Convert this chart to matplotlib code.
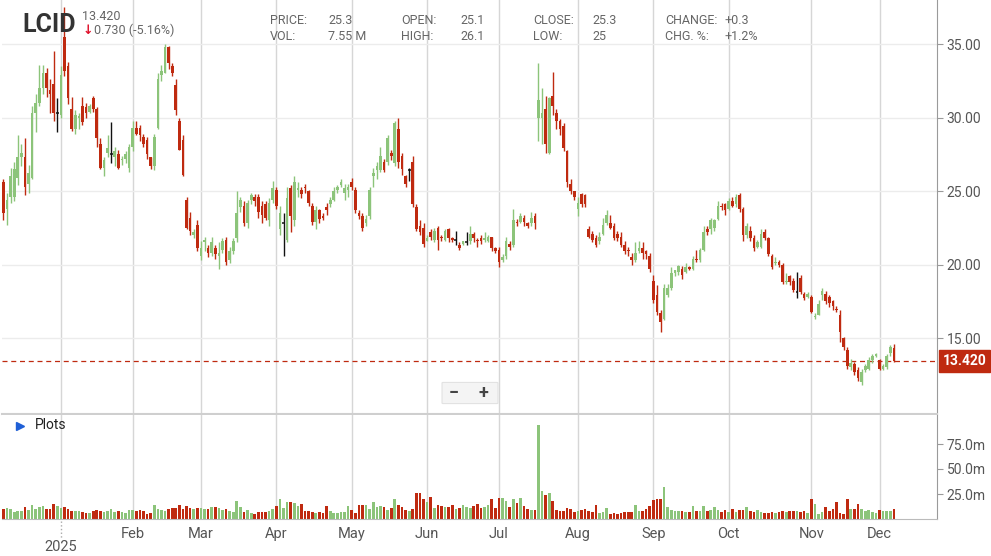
import matplotlib
matplotlib.use("Agg")
import matplotlib.pyplot as plt
import numpy as np
import pandas as pd
from matplotlib.patches import FancyBboxPatch

plt.rcParams['font.family'] = ['Roboto', 'DejaVu Sans']

# ---------------- data ----------------
opens = [23.8,25.6,23.8,24.6,24.6,25.9,27.3,27.3,25.5,25.9,30.3,31.0,32.0,33.0,31.9,32.3,
 30.3,30.2,35.5,33.5,30.6,29.2,30.0,30.8,30.7,30.4,31.3,30.6,28.2,26.6,27.6,27.5,27.3,27.5,27.1,27.2,26.6,28.0,
 29.3,29.3,28.7,28.5,27.3,26.7,29.3,32.9,33.0,34.8,33.5,32.2,29.8,28.5,24.4,23.2,22.0,22.7,
 20.6,21.5,21.1,20.8,21.1,20.6,21.0,21.7,20.3,20.9,21.8,23.9,24.0,22.8,24.4,24.6,24.6,24.0,24.1,23.0,
 24.4,25.1,22.4,22.8,21.7,25.2,23.0,25.1,25.1,25.3,25.0,24.0,22.9,23.7,23.3,23.9,24.1,24.4,25.1,25.4,24.9,
 25.1,25.6,25.1,23.5,23.3,22.8,23.3,26.0,26.4,26.4,27.0,27.0,27.6,26.9,29.2,27.4,26.0,26.4,27.0,
 23.9,22.6,22.5,21.6,22.2,21.7,22.5,21.9,21.7,22.4,21.8,21.7,21.3,21.4,21.5,21.6,22.1,21.7,21.8,21.7,21.6,21.9,21.1,21.0,
 20.3,20.6,21.4,21.3,22.9,22.9,23.2,22.8,22.8,23.3,30.0,30.0,30.6,27.6,31.5,30.3,29.8,29.4,27.7,25.5,25.0,
 23.8,24.8,24.7,22.4,22.1,21.8,21.6,22.1,22.8,22.8,22.6,22.1,21.9,21.3,21.0,20.5,20.3,20.9,21.1,20.9,20.6,
 18.9,17.9,16.7,16.3,17.9,18.4,19.4,19.5,19.7,19.5,19.8,19.7,20.4,20.3,21.0,22.4,22.4,22.5,23.1,24.0,24.1,23.8,24.3,24.1,24.7,
 23.8,22.0,22.3,21.8,21.2,21.2,22.2,21.8,20.6,20.1,20.2,20.0,18.8,19.2,18.9,18.1,19.1,18.0,17.8,17.8,16.4,16.6,
 17.9,18.0,17.8,17.5,17.0,16.6,15.0,14.2,13.0,13.2,12.8,12.0,12.8,12.9,13.5,13.8,
 13.5,12.9,13.0,14.0,14.3]
closes = [25.5,23.5,24.4,26.0,26.5,27.3,27.6,25.3,26.2,30.3,31.0,32.0,33.0,32.0,31.6,30.3,
 30.3,32.9,33.2,31.3,29.2,30.2,30.1,29.7,30.3,30.8,30.6,28.6,26.6,27.1,27.9,27.5,27.7,26.6,27.2,27.5,28.0,29.3,
 28.9,28.8,28.2,27.5,26.7,28.7,32.6,33.2,34.8,33.7,33.0,30.5,27.8,26.1,22.5,22.3,22.2,21.1,
 21.1,21.7,20.8,21.5,20.7,20.8,21.6,20.2,20.9,21.6,23.5,24.4,22.8,24.2,24.7,24.3,23.6,23.4,23.2,24.2,
 25.2,24.0,23.5,22.8,24.5,23.3,25.6,25.2,24.8,25.2,24.2,22.9,23.7,23.1,23.2,23.7,24.4,25.0,25.3,25.6,25.2,
 25.3,25.3,23.7,23.3,22.5,23.1,25.1,26.2,26.7,27.4,26.4,28.6,27.4,29.6,27.0,26.5,25.5,26.4,24.1,
 22.4,22.2,21.4,21.8,21.9,22.3,21.7,21.8,22.3,21.8,21.7,21.7,21.1,21.6,21.5,22.1,21.8,21.6,21.6,21.8,21.9,21.1,20.9,20.2,
 20.5,21.6,21.2,23.0,22.8,23.3,22.9,22.6,23.2,22.8,31.2,30.3,28.2,31.3,30.8,29.8,29.2,27.9,25.6,25.0,24.6,
 24.2,24.1,24.1,21.9,21.7,21.3,21.9,22.7,23.4,22.5,21.8,21.8,21.3,20.9,20.9,20.3,20.8,21.1,20.8,20.7,19.7,
 17.6,16.8,16.1,18.4,18.4,19.4,19.6,19.9,19.3,19.8,19.7,20.4,20.3,21.0,22.2,22.2,23.0,23.0,24.0,23.9,23.7,24.3,24.0,24.6,23.8,
 22.0,22.6,21.8,21.1,21.5,22.1,21.8,20.7,19.8,20.2,20.0,18.8,18.9,18.8,18.3,18.1,18.1,17.7,18.0,16.8,16.5,17.3,
 18.2,17.5,17.4,17.2,16.9,15.4,14.4,13.1,13.3,12.7,12.3,12.7,13.1,13.5,13.8,13.9,
 12.9,13.1,13.8,14.4,13.42]
highs = [26.6,25.8,24.9,26.6,27.0,28.8,28.2,28.6,26.8,30.8,31.6,33.6,33.6,33.4,32.6,34.5,
 31.3,33.5,37.5,33.8,31.4,30.5,30.3,31.4,31.0,30.9,31.5,30.7,28.6,27.3,28.8,29.7,28.0,27.8,27.4,27.7,28.2,29.8,
 29.8,29.5,28.9,28.7,27.3,28.9,33.0,33.6,35.0,34.9,33.7,32.6,30.0,28.8,24.6,23.6,22.4,23.0,
 21.6,21.9,21.3,21.9,21.3,21.5,21.8,21.9,21.2,21.8,25.0,24.6,24.3,24.4,24.9,24.8,24.8,24.3,24.3,24.5,
 25.7,25.3,24.0,23.5,25.3,25.4,26.0,25.6,25.3,25.5,25.1,24.2,24.0,23.8,23.5,24.2,24.6,25.3,25.4,25.8,25.5,
 25.5,25.9,25.3,23.7,23.5,23.4,25.3,26.6,27.0,28.0,27.2,28.8,27.8,29.8,30.0,27.6,26.1,26.6,27.4,
 24.1,23.0,22.8,22.0,22.4,22.5,22.6,22.0,22.4,22.5,21.9,22.3,21.5,21.6,22.2,22.6,22.2,21.8,22.0,22.2,22.0,21.9,21.2,21.2,
 20.7,21.9,21.6,23.8,23.1,23.5,23.4,22.9,23.6,23.5,33.7,32.0,31.5,31.4,33.1,30.6,29.9,29.6,27.8,25.8,25.0,
 24.6,24.9,24.8,22.6,22.3,22.0,22.2,23.2,23.7,23.4,22.8,22.3,22.2,21.6,21.2,20.8,21.5,21.6,21.5,21.0,20.8,
 19.3,18.6,16.9,18.7,18.7,19.8,19.6,20.0,19.9,20.1,19.9,20.6,21.0,21.1,22.6,22.6,23.2,23.1,24.3,24.2,24.2,24.5,24.6,24.8,24.9,
 23.9,22.8,22.6,22.0,21.7,22.4,22.4,21.9,20.7,20.5,20.3,20.1,19.4,19.3,19.1,19.5,19.3,18.1,18.1,17.9,16.7,17.6,
 18.4,18.2,17.9,17.6,17.2,16.9,15.1,14.4,13.6,13.4,13.0,12.9,13.2,13.7,13.9,14.0,
 13.6,13.2,13.9,14.5,14.6]
lows = [23.0,23.0,22.7,24.2,24.3,25.4,26.7,24.7,24.9,25.8,29.0,30.8,31.6,31.4,30.3,29.8,
 29.0,30.0,32.8,30.9,29.1,28.9,29.2,29.5,30.0,30.3,30.4,28.0,26.5,26.0,27.3,26.9,26.7,26.5,26.8,26.9,26.3,27.7,
 28.8,28.4,28.0,27.2,26.5,26.4,29.2,32.5,33.0,33.3,32.8,30.2,27.8,26.0,22.4,22.0,21.8,20.9,
 20.3,20.9,20.5,20.6,20.4,19.7,20.8,20.0,20.1,20.7,21.5,23.6,22.6,22.5,24.1,24.0,23.2,22.8,23.0,22.6,
 24.2,23.8,22.0,20.6,21.5,22.2,22.6,24.6,24.5,24.9,24.0,22.7,22.4,22.8,23.0,23.4,23.9,24.3,24.9,25.3,24.4,
 24.6,25.1,23.5,23.1,22.3,22.6,23.1,25.3,25.8,26.3,26.3,26.8,27.1,26.7,26.6,26.1,25.3,25.7,23.9,
 22.3,22.0,21.2,21.6,21.7,21.5,21.0,21.6,21.6,21.5,21.5,21.3,21.0,21.3,21.3,21.4,21.5,21.2,21.4,21.5,21.5,20.9,20.8,19.8,
 20.2,20.4,21.0,21.2,22.6,22.8,22.6,22.5,22.6,22.4,28.4,28.2,27.6,27.5,30.2,29.2,28.8,27.7,25.3,24.8,24.4,
 23.3,23.9,23.9,21.8,21.5,21.2,21.4,22.0,22.7,22.4,21.7,21.6,21.2,20.7,20.6,20.0,20.2,20.8,20.4,20.4,19.5,
 17.4,16.6,15.4,16.2,17.8,18.3,19.2,19.3,19.0,19.4,19.6,19.6,20.2,20.2,20.9,22.0,22.1,22.3,23.0,23.7,23.4,23.7,23.9,23.9,23.6,
 21.6,21.8,21.6,20.9,21.1,21.1,21.7,20.6,19.7,20.0,19.8,18.7,18.7,18.6,18.1,17.7,18.0,17.6,17.7,16.7,16.3,16.9,
 17.6,17.3,17.1,16.9,16.8,14.7,14.2,12.9,12.8,12.5,12.1,11.8,12.7,12.8,13.3,13.7,
 12.8,12.8,12.9,13.8,13.4]
volumes_m = [17,10,11,10,7,8,8,12,9,14,10,12,13,10,10,15,
 13,11,12,10,8,8,8,7,6,6,8,9,8,7,8,10,7,8,7,6,9,9,
 8,9,8,5,6,14,10,9,8,10,11,11,14,10,13,11,10,11,
 11,10,10,12,12,11,9,10,8,7,18,12,7,9,6,5,7,7,7,8,
 10,13,20,11,17,17,16,13,15,8,8,7,6,7,6,13,8,6,6,7,7,
 13,9,6,14,14,14,10,17,12,13,12,9,11,20,14,12,9,8,10,
 26,26,20,17,22,11,14,13,12,12,14,10,11,14,12,11,13,15,11,12,14,20,11,21,
 21,18,12,20,16,21,13,10,9,9,94,28,24,26,18,9,8,8,11,10,7,
 8,9,10,8,7,14,6,7,11,5,6,5,6,7,7,7,14,8,8,10,13,
 19,20,20,32,12,9,8,8,8,7,7,13,8,8,13,8,9,12,9,7,9,7,10,7,9,
 9,12,8,7,9,7,6,6,7,6,7,8,7,8,8,8,7,8,6,20,15,5,
 7,12,8,10,17,6,5,20,10,10,15,10,8,9,7,6,
 9,8,8,8,10]
price_ticks = [15, 20, 25, 30, 35]
vol_ticks = [25, 50, 75]
vol_tick_labels = ['25.0m', '50.0m', '75.0m']
holidays = ['2024-12-25','2025-01-01','2025-01-09','2025-01-20','2025-02-17','2025-04-18',
            '2025-05-26','2025-06-19','2025-07-04','2025-09-01','2025-11-27']
last_price = 13.42

n = min(len(opens), len(closes), len(highs), len(lows), len(volumes_m))
O = np.array(opens[:n]); C = np.array(closes[:n])
H = np.maximum(np.array(highs[:n]), np.maximum(O, C))
L = np.minimum(np.array(lows[:n]), np.minimum(O, C))
V = np.array(volumes_m[:n], dtype=float)
days = pd.bdate_range('2024-11-01', '2025-12-05')
days = days[~days.isin(pd.to_datetime(holidays))][-n:]
idx = np.arange(n)

GREEN = '#8cc47a'; RED = '#bf2a10'; BLACK = '#111111'
cols = np.where(np.isclose(O, C), BLACK, np.where(C > O, GREEN, RED))
vcols = np.where(C >= O, GREEN, RED)

W, Hh = 991, 556
fig = plt.figure(figsize=(W/100, Hh/100), dpi=100)
fig.patch.set_facecolor('white')
xl, xr = 2/W, 937/W
axp = fig.add_axes([xl, 1-414/Hh, xr-xl, 414/Hh])
axv = fig.add_axes([xl, 1-519/Hh, xr-xl, 104/Hh])
x0, x1 = 0.6, n - 1 + 12.0

mpos, mlab = [], []
for i in range(1, n):
    if days[i].month != days[i-1].month:
        mpos.append(i)
        mlab.append('' if days[i].month == 1 else days[i].strftime('%b'))
jan = [i for i in range(1, n) if days[i].year == 2025 and days[i-1].year == 2024][0]

for ax in (axp, axv):
    ax.set_xlim(x0, x1)
    for p in mpos:
        ax.axvline(p, color='#d6d6d6', lw=1, zorder=0)
    for s in ['top', 'left']:
        ax.spines[s].set_visible(False)
    ax.spines['right'].set_color('#9a9a9a')
    ax.spines['bottom'].set_color('#bbbbbb')
    ax.yaxis.tick_right()
    ax.tick_params(axis='y', colors='#9a9a9a', labelcolor='#555555', labelsize=10, length=4, pad=3)

axp.set_ylim(9.83, 38.0)
for t in price_ticks:
    axp.axhline(t, color='#ececec', lw=1, zorder=0)
axp.set_yticks(price_ticks)
axp.set_yticklabels([f'{t:.2f}' for t in price_ticks])
axp.set_xticks([])
axp.vlines(idx, L, H, colors=cols, lw=1.0, zorder=2)
dj = np.isclose(O, C)
body = np.where(dj, 0.0, C - O)
axp.bar(idx, body, bottom=O, width=0.74, color=cols, zorder=3, linewidth=0)
axp.hlines(C[dj], idx[dj]-0.4, idx[dj]+0.4, colors=BLACK, lw=1.1, zorder=3)
axp.axhline(last_price, color=RED, lw=0.9, ls=(0, (4, 3)), zorder=1)
axp.spines['bottom'].set_color('#cfcfcf'); axp.spines['bottom'].set_linewidth(1.5)
axp.text(1.006, last_price, f'{last_price:.3f}', transform=axp.get_yaxis_transform(),
         ha='left', va='center', color='white', fontsize=10, fontweight='bold',
         bbox=dict(boxstyle='square,pad=0.28', fc=RED, ec=RED), clip_on=False, zorder=10)

axv.set_ylim(0, 104)
axv.bar(idx, V, width=0.74, color=vcols, linewidth=0, zorder=2)
axv.set_yticks(vol_ticks)
axv.set_yticklabels(vol_tick_labels)
axv.set_xticks(mpos)
axv.set_xticklabels(mlab)
axv.tick_params(axis='x', colors='#bbbbbb', labelcolor='#555555', labelsize=10.5, length=0, pad=6)
axv.text(jan, -0.27, '2025', transform=axv.get_xaxis_transform(), ha='center', va='center',
         color='#555555', fontsize=10.5)
axv.plot([jan, jan], [-0.02, -0.18], transform=axv.get_xaxis_transform(), color='#aaaaaa',
         lw=1, ls=':', clip_on=False)
axv.text(0.035, 0.9, 'Plots', transform=axv.transAxes, ha='left', va='center', fontsize=10, color='#222222')
axv.plot([0.019], [0.89], marker='>', color='#1f5fd6', markersize=6, transform=axv.transAxes)

fig.text(22/W, 1-25/Hh, 'LCID', fontsize=18, fontweight='bold', color='#333333', va='center', ha='left')
fig.text(82/W, 1-16/Hh, '13.420', fontsize=9, color='#666666', va='center')
fig.text(83/W, 1-30/Hh, '\u2193', fontsize=9, color='#e0102a', va='center', fontweight='bold', family='DejaVu Sans')
fig.text(94/W, 1-30/Hh, '0.730 (-5.16%)', fontsize=9, color='#666666', va='center')
hdr = [(270, 'PRICE:', 328, '25.3', 'VOL:', '7.55 M'),
       (401, 'OPEN:', 460, '25.1', 'HIGH:', '26.1'),
       (533, 'CLOSE:', 592, '25.3', 'LOW:', '25'),
       (665, 'CHANGE:', 724, '+0.3', 'CHG. %:', '+1.2%')]
for xa, la, xb, va, lb, vb in hdr:
    fig.text(xa/W, 1-21/Hh, la, fontsize=9, color='#666666', va='center')
    fig.text(xb/W, 1-21/Hh, va, fontsize=9, color='#666666', va='center')
    fig.text(xa/W, 1-37/Hh, lb, fontsize=9, color='#666666', va='center')
    fig.text(xb/W, 1-37/Hh, vb, fontsize=9, color='#666666', va='center')

btn = FancyBboxPatch((443/W, 1-403/Hh), 54/W, 20/Hh, boxstyle='round,pad=0.001',
                     transform=fig.transFigure, fc='#f4f4f4', ec='#e2e2e2', lw=0.8)
fig.add_artist(btn)
fig.text(454/W, 1-393/Hh, '\u2212', fontsize=13, color='#444444', ha='center', va='center', fontweight='bold')
fig.text(483/W, 1-393/Hh, '+', fontsize=13, color='#444444', ha='center', va='center', fontweight='bold')

fig.savefig('out.png', dpi=100, facecolor='white')
